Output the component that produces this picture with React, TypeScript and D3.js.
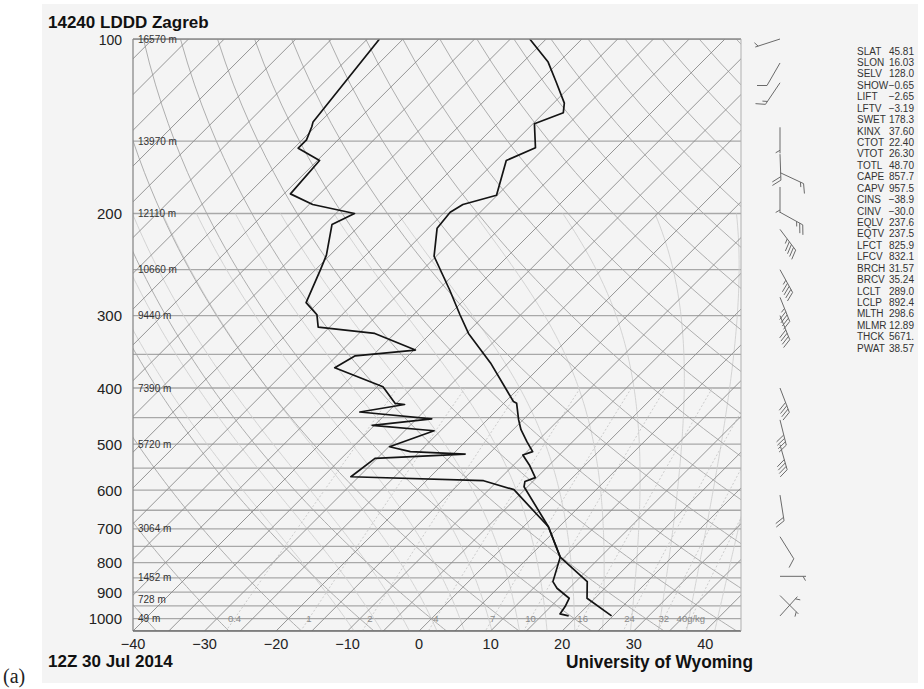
import React from 'react';
import * as d3 from 'd3';

const W = 924;
const H = 689;

// ---- data ----
const pressureTicks = [100, 200, 300, 400, 500, 600, 700, 800, 900, 1000];
const isobarLevels = [100, 150, 200, 250, 300, 350, 400, 450, 500, 550, 600, 650, 700, 750, 800, 850, 900, 950, 1000, 1050];
const tempTicks = [-40, -30, -20, -10, 0, 10, 20, 30, 40];
const heightLevels = [100, 150, 200, 250, 300, 400, 500, 700, 850, 925, 1000];
const heightLabels = ['16570 m', '13970 m', '12110 m', '10660 m', '9440 m', '7390 m', '5720 m', '3064 m', '1452 m', '728 m', '49 m'];
const mixingRatios = [0.4, 1, 2, 4, 7, 10, 16, 24, 32, 40];
const mixingLabels = ['0.4', '1', '2', '4', '7', '10', '16', '24', '32', '40g/kg'];

const tempP = [100, 109.6, 118.6, 129, 134, 140, 154, 162, 186, 193, 199, 212, 237, 271, 299, 322, 362, 422, 425, 454, 472, 495, 515, 522, 543, 571, 580, 592, 694, 783, 863, 922, 989];
const tempT = [-67.3, -61.5, -57.6, -53.5, -52.3, -54.8, -51.3, -53.6, -50.1, -53.5, -54.2, -53.8, -50.3, -43.4, -38.5, -34.7, -27.5, -18.9, -18.2, -15.6, -13.9, -11.4, -9.2, -10.1, -7.8, -5.2, -6.1, -5.5, 3.5, 9.4, 16.6, 18.9, 24.8];

const dewP = [100, 139, 141.7, 149.3, 154.3, 162, 185, 193, 200, 209, 236, 250, 285, 299, 314, 322, 344, 352, 369, 398, 425, 427, 440, 452, 464, 474, 505, 515, 520, 529, 569, 578, 599, 694, 783, 863, 886, 922, 953, 981, 989];
const dewT = [-88.3, -86.0, -85.5, -84.4, -84.4, -79.7, -79.1, -74.5, -67.4, -69.0, -65.5, -64.3, -61.7, -58.5, -56.6, -47.8, -39.8, -47.4, -48.6, -39.2, -35.2, -33.7, -38.9, -27.9, -35.3, -25.9, -29.9, -26.3, -18.3, -30.3, -31.1, -12.0, -6.5, 3.5, 9.4, 11.8, 13.3, 16.4, 17.0, 17.3, 18.8];

const windP = [100, 110, 119, 142, 158, 170, 180, 199, 213, 250, 279, 300, 400, 454, 501, 612, 722, 845, 912, 989];
const windDir = [252, 210, 214, 180, 178, 115, 180, 119, 143, 151, 158, 158, 159, 166, 164, 171, 148, 90, 135, 42];
const windSpd = [5, 10, 15, 5, 20, 15, 5, 25, 45, 45, 45, 40, 40, 40, 40, 20, 10, 5, 5, 5];

const indexNames = ['SLAT', 'SLON', 'SELV', 'SHOW', 'LIFT', 'LFTV', 'SWET', 'KINX', 'CTOT', 'VTOT', 'TOTL', 'CAPE', 'CAPV', 'CINS', 'CINV', 'EQLV', 'EQTV', 'LFCT', 'LFCV', 'BRCH', 'BRCV', 'LCLT', 'LCLP', 'MLTH', 'MLMR', 'THCK', 'PWAT'];
const indexValues = ['45.81', '16.03', '128.0', '\u22120.65', '\u22122.65', '\u22123.19', '178.3', '37.60', '22.40', '26.30', '48.70', '857.7', '957.5', '\u221238.9', '\u221230.0', '237.6', '237.5', '825.9', '832.1', '31.57', '35.24', '289.0', '892.4', '298.6', '12.89', '5671.', '38.57'];

const isothermValues = d3.range(-130, 50, 5);
const dryAdiabatValues = d3.range(-40, 200, 10);
const moistAdiabatValues = d3.range(-12, 44, 4);

// ---- geometry ----
const PL = 133, PR = 741, PT = 39, PB = 631;
const yScale = d3.scaleLog().domain([100, 1050]).range([PT, PB]);
const xScale = d3.scaleLinear().domain([-40, 45]).range([PL, PR]);
const sx = (T: number, p: number) => xScale(T) + (PB - yScale(p));

const lineGen = d3.line<[number, number]>().x(d => sx(d[0], d[1])).y(d => yScale(d[1]));

const sampleP = d3.range(100, 1051, 10);

function es(Tc: number) {
  return 6.112 * Math.exp((17.67 * Tc) / (Tc + 243.5));
}
function tdFromMix(w: number, p: number) {
  const e = (w * p) / (622 + w);
  const l = Math.log(e / 6.112);
  return (243.5 * l) / (17.67 - l);
}
function moistPath(T0: number): [number, number][] {
  const Rd = 287.04, cp = 1005.7, Lv = 2.501e6, eps = 0.622;
  const dTdp = (T: number, p: number) => {
    const e = es(T - 273.15);
    const rs = (eps * e) / (p - e);
    return (Rd * T + Lv * rs) / (p * (cp + (Lv * Lv * rs * eps) / (Rd * T * T)));
  };
  const pts: [number, number][] = [];
  let T = T0 + 273.15, p = 1000;
  const down: [number, number][] = [];
  while (p < 1050) {
    const dp = 5;
    const k1 = dTdp(T, p);
    const k2 = dTdp(T + k1 * dp, p + dp);
    T += 0.5 * (k1 + k2) * dp;
    p += dp;
    down.push([T - 273.15, p]);
  }
  down.reverse().forEach(d => pts.push(d));
  pts.push([T0, 1000]);
  T = T0 + 273.15; p = 1000;
  while (p > 200) {
    const dp = -5;
    const k1 = dTdp(T, p);
    const k2 = dTdp(T + k1 * dp, p + dp);
    T += 0.5 * (k1 + k2) * dp;
    p += dp;
    pts.push([T - 273.15, p]);
  }
  return pts;
}

function barbPath(x0: number, y0: number, dir: number, spd: number) {
  const L = 26;
  const r = (dir * Math.PI) / 180;
  const ux = Math.sin(r), uy = -Math.cos(r);
  const fr = ((dir + 60) * Math.PI) / 180;
  const fx = Math.sin(fr), fy = -Math.cos(fr);
  let d = `M${x0},${y0}L${x0 + L * ux},${y0 + L * uy}`;
  const full = Math.floor(spd / 10);
  const half = spd % 10 >= 5 ? 1 : 0;
  let pos = L;
  for (let i = 0; i < full; i++) {
    const px = x0 + pos * ux, py = y0 + pos * uy;
    d += `M${px},${py}l${10 * fx},${10 * fy}`;
    pos -= 3.5;
  }
  if (half) {
    if (full === 0) pos -= 3;
    const px = x0 + pos * ux, py = y0 + pos * uy;
    d += `M${px},${py}l${5 * fx},${5 * fy}`;
  }
  return d;
}

const FONT = "'Liberation Sans', Arial, Helvetica, sans-serif";

export default function App() {
  const tempLine = lineGen(tempP.map((p, i) => [tempT[i], p] as [number, number]));
  const dewLine = lineGen(dewP.map((p, i) => [dewT[i], p] as [number, number]));

  return (
    <svg width={W} height={H} style={{ position: 'absolute', left: 0, top: 0, background: '#fff' }}>
      <defs>
        <clipPath id="plotClip">
          <rect x={PL} y={PT} width={PR - PL} height={PB - PT} />
        </clipPath>
      </defs>
      <rect x={42} y={4} width={876} height={679} fill="#f4f4f4" />

      <g clipPath="url(#plotClip)">
        {isobarLevels.map(p => (
          <line key={'ib' + p} x1={PL} x2={PR} y1={yScale(p)} y2={yScale(p)} stroke="#a8a8a8" strokeWidth={1.3} />
        ))}
        {moistAdiabatValues.map(t => (
          <path key={'ma' + t} d={lineGen(moistPath(t)) || ''} fill="none" stroke="#cfcfcf" strokeWidth={0.9} />
        ))}
        {mixingRatios.map(w => (
          <path key={'mr' + w} d={lineGen(d3.range(400, 1051, 10).map(p => [tdFromMix(w, p), p] as [number, number])) || ''} fill="none" stroke="#c6c6c6" strokeWidth={0.9} strokeDasharray="2,2" />
        ))}
        {dryAdiabatValues.map(th => (
          <path key={'da' + th} d={lineGen(sampleP.map(p => [(th + 273.15) * Math.pow(p / 1000, 0.2857) - 273.15, p] as [number, number])) || ''} fill="none" stroke="#a6a6a6" strokeWidth={0.9} />
        ))}
        {isothermValues.map(t => (
          <line key={'it' + t} x1={sx(t, 1050)} y1={yScale(1050)} x2={sx(t, 100)} y2={yScale(100)} stroke="#8a8a8a" strokeWidth={0.9} />
        ))}
        <path d={dewLine || ''} fill="none" stroke="#141414" strokeWidth={1.7} strokeLinejoin="round" />
        <path d={tempLine || ''} fill="none" stroke="#141414" strokeWidth={1.7} strokeLinejoin="round" />
      </g>

      <line x1={PL} x2={PL} y1={PT} y2={PB} stroke="#8a8a8a" strokeWidth={1.3} />
      <line x1={PL} x2={PR} y1={PT} y2={PT} stroke="#8a8a8a" strokeWidth={1.3} />
      <line x1={PL} x2={PR} y1={PB} y2={PB} stroke="#6a6a6a" strokeWidth={1.5} />
      <line x1={PR} x2={PR} y1={PT} y2={PB} stroke="#b0b0b0" strokeWidth={1} />

      {heightLevels.map((p, i) => (
        <text key={'hl' + p} x={138} y={yScale(p) + 3.5} fontFamily={FONT} fontSize={10} fill="#333">{heightLabels[i]}</text>
      ))}
      {mixingRatios.map((w, i) => (
        <text key={'ml' + w} x={sx(tdFromMix(w, 1000), 1000)} y={yScale(1000) + 3.5} fontFamily={FONT} fontSize={9.5} fill="#8a8a8a" textAnchor="middle">{mixingLabels[i]}</text>
      ))}

      {pressureTicks.map(p => (
        <text key={'pl' + p} x={122} y={yScale(p) + 5.5} fontFamily={FONT} fontSize={p === 100 ? 14 : 15} fill="#222" textAnchor="end">{p}</text>
      ))}
      {tempTicks.map(t => (
        <text key={'tl' + t} x={xScale(t)} y={649} fontFamily={FONT} fontSize={14.5} fill="#222" textAnchor="middle">{t < 0 ? '\u2212' + Math.abs(t) : String(t)}</text>
      ))}

      {windP.map((p, i) => (
        <path key={'wb' + i} d={barbPath(780, yScale(p), windDir[i], windSpd[i])} fill="none" stroke="#6a6a6a" strokeWidth={1} />
      ))}

      {indexNames.map((n, i) => (
        <g key={'ix' + n}>
          <text x={857} y={51 + i * 11.43 + 3.6} fontFamily={FONT} fontSize={10} fill="#333">{n}</text>
          <text x={914} y={51 + i * 11.43 + 3.6} fontFamily={FONT} fontSize={10} fill="#333" textAnchor="end">{indexValues[i]}</text>
        </g>
      ))}

      <text x={48} y={28} fontFamily={FONT} fontSize={17} fontWeight="bold" fill="#111">14240 LDDD Zagreb</text>
      <text x={48} y={667} fontFamily={FONT} fontSize={17} fontWeight="bold" fill="#111">12Z 30 Jul 2014</text>
      <text x={566} y={668} fontFamily={FONT} fontSize={18} fontWeight="bold" fill="#111" textLength={187} lengthAdjust="spacingAndGlyphs">University of Wyoming</text>
      <text x={3} y={683} fontFamily="'Liberation Serif', 'DejaVu Serif', serif" fontSize={20} fill="#222">(a)</text>
    </svg>
  );
}
